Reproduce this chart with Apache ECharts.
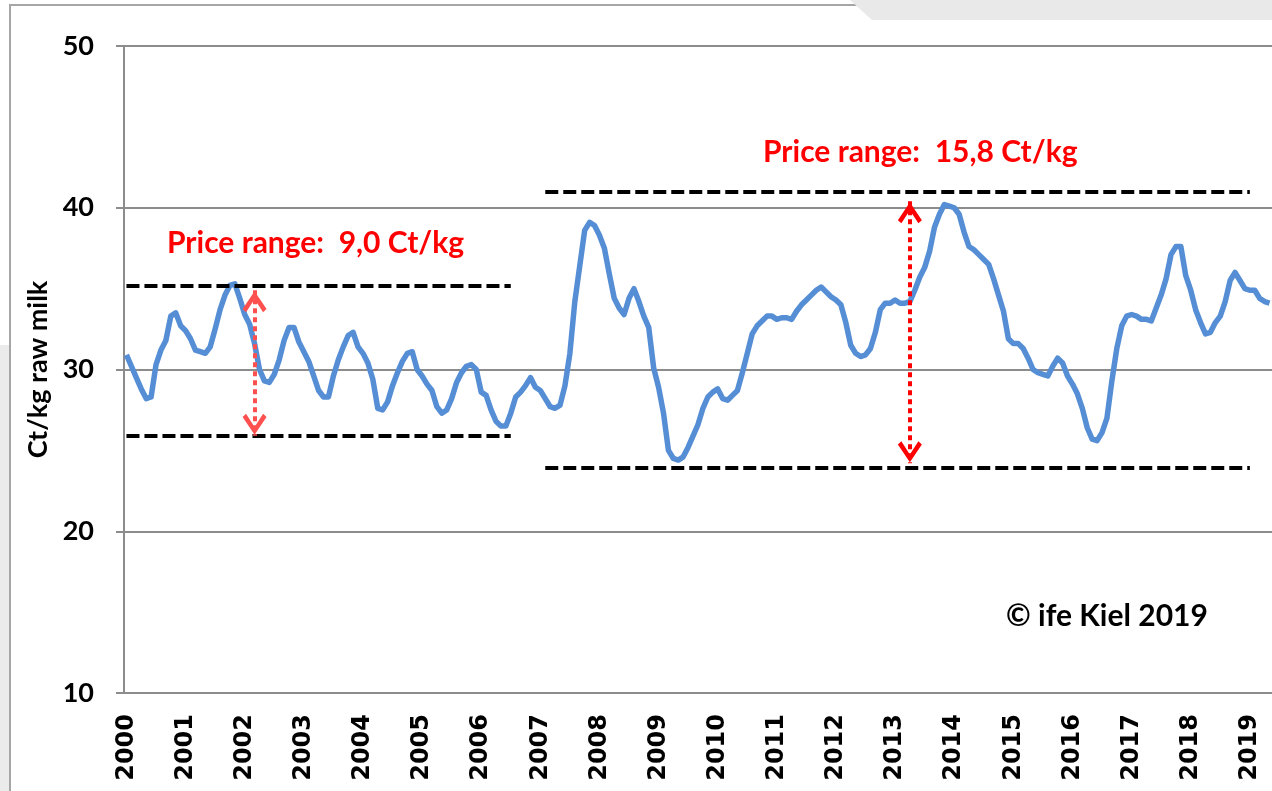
<!DOCTYPE html>
<html>
<head>
<meta charset="utf-8">
<script src="https://cdn.jsdelivr.net/npm/echarts@6/dist/echarts.min.js"></script>
<style>
  html, body { margin: 0; padding: 0; background: #fff; }
  #chart { width: 1272px; height: 791px; }
</style>
</head>
<body>
<div id="chart"></div>
<script>
// monthly raw milk price, Ct/kg, Jan 2000 .. May 2019
const prices = [
  30.9, 30.2, 29.5, 28.8, 28.2, 28.3, 30.3, 31.2, 31.8, 33.3, 33.5, 32.7, // 2000
  32.4, 31.9, 31.2, 31.1, 31.0, 31.4, 32.5, 33.7, 34.6, 35.2, 35.3, 34.4, // 2001
  33.4, 32.8, 31.6, 30.0, 29.3, 29.2, 29.7, 30.6, 31.8, 32.6, 32.6, 31.7, // 2002
  31.1, 30.5, 29.6, 28.7, 28.3, 28.3, 29.6, 30.6, 31.4, 32.1, 32.3, 31.4, // 2003
  31.0, 30.4, 29.4, 27.6, 27.5, 28.0, 29.0, 29.8, 30.5, 31.0, 31.1, 30.0, // 2004
  29.6, 29.1, 28.7, 27.7, 27.3, 27.5, 28.2, 29.2, 29.8, 30.2, 30.3, 30.0, // 2005
  28.6, 28.4, 27.5, 26.8, 26.5, 26.5, 27.3, 28.3, 28.6, 29.0, 29.5, 28.9, // 2006
  28.7, 28.2, 27.7, 27.6, 27.8, 29.0, 31.0, 34.2, 36.4, 38.6, 39.1, 38.9, // 2007
  38.3, 37.5, 35.9, 34.4, 33.8, 33.4, 34.4, 35.0, 34.2, 33.3, 32.6, 30.1, // 2008
  28.9, 27.3, 25.0, 24.5, 24.4, 24.6, 25.2, 25.9, 26.6, 27.6, 28.3, 28.6, // 2009
  28.8, 28.2, 28.1, 28.4, 28.7, 29.8, 31.0, 32.2, 32.7, 33.0, 33.3, 33.3, // 2010
  33.1, 33.2, 33.2, 33.1, 33.6, 34.0, 34.3, 34.6, 34.9, 35.1, 34.8, 34.5, // 2011
  34.3, 34.0, 32.9, 31.5, 31.0, 30.8, 30.9, 31.3, 32.3, 33.7, 34.1, 34.1, // 2012
  34.3, 34.1, 34.1, 34.2, 34.9, 35.7, 36.3, 37.3, 38.8, 39.6, 40.2, 40.1, // 2013
  40.0, 39.6, 38.5, 37.6, 37.4, 37.1, 36.8, 36.5, 35.6, 34.6, 33.6, 31.9, // 2014
  31.6, 31.6, 31.3, 30.7, 30.0, 29.8, 29.7, 29.6, 30.2, 30.7, 30.4, 29.6, // 2015
  29.1, 28.5, 27.6, 26.4, 25.7, 25.6, 26.1, 27.0, 29.3, 31.3, 32.7, 33.3, // 2016
  33.4, 33.3, 33.1, 33.1, 33.0, 33.8, 34.6, 35.6, 37.1, 37.6, 37.6, 35.8, // 2017
  34.9, 33.7, 32.9, 32.2, 32.3, 32.9, 33.3, 34.2, 35.5, 36.0, 35.5, 35.0, // 2018
  34.9, 34.9, 34.4, 34.2, 34.1                                            // 2019
];

const firstYear = 2000;
const months = prices.map((_, i) =>
  (firstYear + Math.floor(i / 12)) + "-" + String(i % 12 + 1).padStart(2, "0"));

// price bands (dashed lines) and their arrows
const bandStart = ["2000-01", "2007-02"];
const bandEnd = ["2006-07", "2019-01"];
const bandHigh = [35.2, 41.0];
const bandLow = [25.9, 23.9];
const arrowMonth = ["2002-03", "2013-04"];
const arrowTop = [34.9, 40.4];
const arrowBottom = [25.9, 24.2];
const arrowColors = ["#ff5050", "#ff0000"];
const rangeLabels = ["Price range:  9,0 Ct/kg", "Price range:  15,8 Ct/kg"];

const chevron = "path://M12,0 L12.01,0 Z M12,22 L24,39 L20.5,42 L12,29.5 L3.5,42 L0,39 Z";

const markData = [];
for (let k = 0; k < 2; k++) {
  const dash = { type: [13, 5], color: "#000", width: 4 };
  markData.push([
    { coord: [bandStart[k], bandHigh[k]], lineStyle: dash },
    { coord: [bandEnd[k], bandHigh[k]] }
  ]);
  markData.push([
    { coord: [bandStart[k], bandLow[k]], lineStyle: dash },
    { coord: [bandEnd[k], bandLow[k]] }
  ]);
  const head = { symbol: chevron, symbolSize: [24, 44], itemStyle: { color: arrowColors[k] } };
  markData.push([
    Object.assign({ coord: [arrowMonth[k], arrowTop[k]],
      lineStyle: { type: [5, 4], color: arrowColors[k], width: 4 } }, head),
    Object.assign({ coord: [arrowMonth[k], arrowBottom[k]] }, head)
  ]);
}

const chart = echarts.init(document.getElementById("chart"));
const labelFont = "Lato, 'Open Sans', sans-serif";

chart.setOption({
  animation: false,
  backgroundColor: "#fff",
  graphic: [
    { type: "rect", z: -10, shape: { x: 0, y: 345, width: 9, height: 446 },
      style: { fill: "#ebebeb" } },
    { type: "rect", z: -9, shape: { x: 10, y: 5, width: 1300, height: 900 },
      style: { fill: "#fff", stroke: "#a6a6a6", lineWidth: 2 } },
    { type: "polygon", z: -8, shape: { points: [[850, 0], [1272, 0], [1272, 20], [872, 20]] },
      style: { fill: "#e9e9e9" } },
    { type: "text", left: 167, top: 228,
      style: { text: rangeLabels[0], fill: "#ff0000", font: "bold 30px " + labelFont } },
    { type: "text", left: 763, top: 137,
      style: { text: rangeLabels[1], fill: "#ff0000", font: "bold 30px " + labelFont } },
    { type: "text", left: 1006, top: 601,
      style: { text: "© ife Kiel 2019", fill: "#000", font: "bold 30px " + labelFont } }
  ],
  grid: { left: 124, right: -3, top: 46, bottom: 98 },
  xAxis: {
    type: "category",
    data: months,
    boundaryGap: true,
    axisLine: { lineStyle: { color: "#8c8c8c", width: 2 } },
    axisTick: { interval: 0, length: 10, lineStyle: { color: "#8c8c8c", width: 1 } },
    axisLabel: {
      interval: 11,
      rotate: 90,
      margin: 21,
      color: "#000",
      fontFamily: "'DejaVu Sans', sans-serif",
      fontWeight: "bold",
      fontSize: 24,
      formatter: v => v.slice(0, 4)
    },
    splitLine: { show: false }
  },
  yAxis: {
    type: "value",
    min: 10,
    max: 50,
    interval: 10,
    name: "Ct/kg raw milk",
    nameLocation: "middle",
    nameGap: 70,
    nameTextStyle: { color: "#000", fontFamily: labelFont, fontWeight: "bold", fontSize: 27 },
    axisLine: { show: true, lineStyle: { color: "#8c8c8c", width: 2 } },
    axisTick: { show: true, length: 8, lineStyle: { color: "#8c8c8c", width: 2 } },
    axisLabel: { margin: 30, color: "#000", fontFamily: labelFont, fontWeight: "bold", fontSize: 27 },
    splitLine: { lineStyle: { color: "#8c8c8c", width: 2 } }
  },
  series: [
    {
      type: "line",
      data: prices,
      showSymbol: false,
      lineStyle: { color: "#558ed5", width: 5.5, join: "round" },
      itemStyle: { color: "#558ed5" },
      z: 3,
      markLine: {
        silent: true,
        symbol: ["none", "none"],
        label: { show: false },
        emphasis: { disabled: true },
        data: markData
      }
    }
  ]
});

window.addEventListener("resize", () => chart.resize());
</script>
</body>
</html>
